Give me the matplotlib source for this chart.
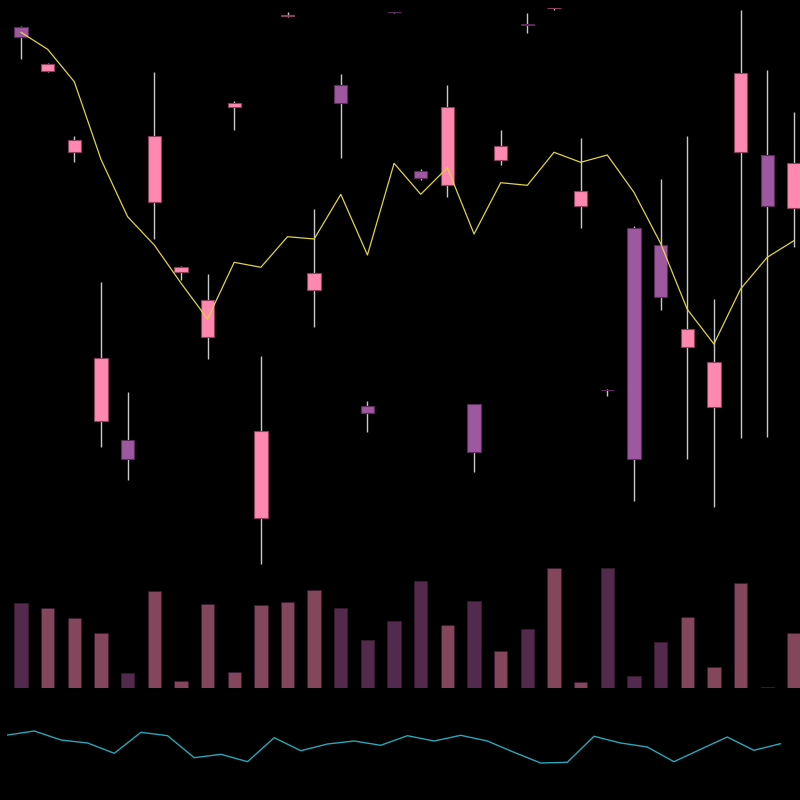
import numpy as np
import matplotlib
matplotlib.use("Agg")
import matplotlib.pyplot as plt

# candle data (30 sessions)
opens = [108.54, 99.86, 83.66, 29.8, 25.94, 73.6, 59.66, 46.54, 92.54, 10.46,
         110.9, 56.0, 97.0, 32.74, 111.62, 79.86, 76.94, 33.14, 82.0, 109.16,
         112.38, 72.86, 36.02, 68.34, 64.94, 44.66, 32.6, 83.6, 82.94, 72.4]
closes = [106.54, 101.2, 86.0, 42.4, 22.26, 86.8, 60.66, 53.94, 93.46, 27.74,
          111.1, 59.34, 93.46, 31.46, 111.58, 78.34, 92.54, 23.66, 84.86, 109.1,
          112.42, 75.74, 35.98, 22.26, 54.66, 48.14, 41.66, 99.34, 72.86, 81.4]
highs = [108.8, 101.46, 86.8, 57.54, 35.66, 99.6, 60.8, 59.2, 93.8, 42.74,
         111.54, 72.2, 99.2, 33.8, 111.7, 80.26, 97.0, 33.26, 88.0, 111.46,
         112.4, 86.46, 36.2, 68.86, 78.14, 86.8, 54.14, 112.0, 100.0, 91.54]
lows = [102.26, 99.66, 81.66, 24.66, 18.0, 66.26, 58.0, 42.26, 88.0, 1.2,
        110.66, 48.54, 82.46, 27.66, 111.5, 78.0, 74.66, 19.6, 81.0, 107.46,
        112.06, 68.34, 34.8, 13.74, 52.0, 22.26, 12.66, 26.46, 26.54, 64.54]
ma = [107.54, 104.14, 97.66, 82.14, 70.66, 65.0, 57.4, 50.2, 61.54, 60.54,
      66.66, 66.2, 75.14, 63.0, 81.34, 75.14, 80.46, 67.2, 77.46, 76.94,
      83.54, 81.54, 83.0, 75.54, 65.34, 52.14, 45.2, 56.2, 62.54, 65.86]
volume = [71.1, 66.7, 58.3, 45.8, 12.25, 80.8, 5.6, 69.75, 13.3, 69.2,
          71.4, 81.7, 66.4, 39.75, 55.6, 88.9, 52.75, 72.5, 30.8, 49.4,
          99.75, 5.0, 99.75, 10.0, 38.1, 59.4, 17.25, 87.25, 0.8, 45.6]
osc = [45, 49, 40, 37, 26.7, 47.7, 44.3, 22.3, 25.7, 18.3,
       42.3, 29.3, 36, 39, 34.7, 44.3, 39, 44.7, 39, 27.7,
       17, 17.7, 43.7, 37, 33, 18.3, 30.7, 43, 29.7, 36.3]

UP, DOWN = '#ff88b0', '#9e58a0'
UP_EDGE, DOWN_EDGE = '#8a3f5c', '#5a2a58'
VUP, VDOWN = '#84465a', '#532a4e'

x = np.arange(len(opens))
o = np.array(opens); c = np.array(closes)
up = c >= o

fig = plt.figure(figsize=(8, 8), dpi=100, facecolor='black')
xlim = (-21 / 26.65, (800 - 21) / 26.65)

ax1 = fig.add_axes([0, 230 / 800, 1, 570 / 800])
ax2 = fig.add_axes([0, 112 / 800, 1, 120 / 800])
ax3 = fig.add_axes([0, 20 / 800, 1, 60 / 800])
for ax in (ax1, ax2, ax3):
    ax.set_facecolor('none')
    ax.set_xlim(*xlim)
    ax.axis('off')

# price panel
ax1.vlines(x, lows, highs, color='#c8c8c8', lw=1, zorder=1)
ax1.bar(x, c - o, bottom=o, width=0.5,
        color=np.where(up, UP, DOWN), edgecolor=np.where(up, UP_EDGE, DOWN_EDGE),
        linewidth=0.8, zorder=2)
ax1.plot(x, ma, color='#e0d345', lw=0.9, zorder=3)
ax1.set_ylim(0, 114)

# volume panel
ax2.bar(x, volume, width=0.5, color=np.where(up, VUP, VDOWN),
        edgecolor='#3a1a30', linewidth=0.6)
ax2.set_ylim(0, 100)

# oscillator
ax3.plot(x - 0.5, osc, color='#29a7b8', lw=1)
ax3.set_ylim(0, 60)

fig.savefig('out.png', dpi=100, facecolor='black')
